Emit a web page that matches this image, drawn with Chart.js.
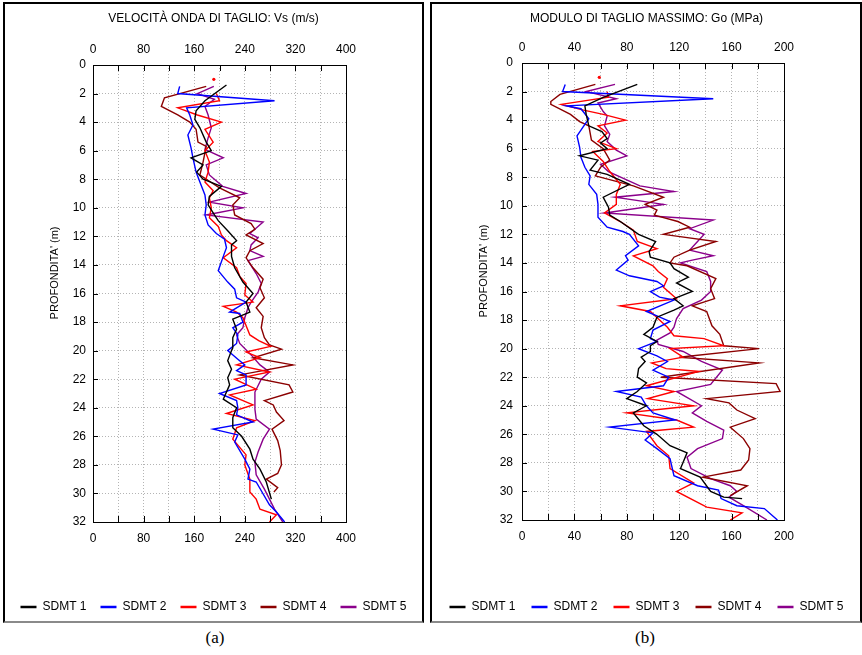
<!DOCTYPE html>
<html>
<head>
<meta charset="utf-8">
<script src="https://cdn.jsdelivr.net/npm/chart.js@4.4.0/dist/chart.umd.min.js"></script>
<style>
  body { margin: 0; background: #fff; width: 862px; height: 655px; position: relative; overflow: hidden; }
  .frame { position: absolute; top: 2px; height: 621px; box-sizing: border-box;
           border: 2px solid #000; border-bottom: 2px solid #8a8a8a; }
  #frameA { left: 3px; width: 421px; }
  #frameB { left: 430px; width: 432px; }
  canvas { position: absolute; top: 4px; }
  #chartA { left: 4px; }
  #chartB { left: 431px; }
  .cap { position: absolute; top: 628px; width: 40px; text-align: center;
         font-family: "Liberation Serif", "Times New Roman", serif; font-size: 17px; color: #000; }
</style>
</head>
<body>
<div class="frame" id="frameA"></div>
<div class="frame" id="frameB"></div>
<canvas id="chartA" width="419" height="619"></canvas>
<canvas id="chartB" width="431" height="619"></canvas>
<div class="cap" style="left:195px">(a)</div>
<div class="cap" style="left:625px">(b)</div>
<script>
const seriesNames = ['SDMT 1', 'SDMT 2', 'SDMT 3', 'SDMT 4', 'SDMT 5'];
const seriesColors = ['#000000', '#0000ff', '#ff0000', '#8b0000', '#8b008b'];

// [depth (m), Vs (m/s)]
const vs1 = [[1.4,211],[2.5,177],[3.2,163],[3.8,161],[4.4,169],[5.4,179],[6.0,187],[6.5,155],[7.0,174],[7.5,164],[8.0,174],[8.5,203],[9.2,184],[9.8,182],[10.5,192],[10.9,198],[11.6,213],[12.3,227],[12.6,219],[13.4,219],[14.2,224],[15.2,237],[16.0,253],[16.6,242],[17.3,248],[17.8,221],[18.5,227],[19.1,221],[19.8,221],[20.0,219],[20.7,213],[21.3,219],[21.9,213],[22.4,216],[23.4,206],[24.0,227],[24.7,221],[25.4,221],[26.0,235],[26.9,248],[27.6,253],[28.3,264],[29.2,274],[30.4,282]];
const vs2 = [[1.5,137],[2.0,134],[2.5,287],[3.0,148],[3.5,153],[4.2,158],[4.9,150],[5.8,155],[6.5,158],[7.5,163],[8.2,169],[9.1,177],[9.8,179],[10.5,177],[11.2,182],[11.8,195],[12.2,208],[12.8,211],[13.4,206],[14.4,198],[15.2,213],[15.7,224],[16.3,227],[16.6,242],[17.3,216],[17.4,232],[18.0,237],[18.4,221],[18.9,229],[19.5,227],[20.0,213],[20.6,229],[21.0,240],[21.4,227],[21.7,242],[22.4,242],[23.0,200],[23.5,227],[24.0,229],[24.5,227],[25.0,253],[25.5,190],[25.9,229],[26.4,224],[27.6,240],[28.3,248],[29.0,245],[29.2,258],[30.8,279],[31.3,290],[32.0,303]];
const vs3Dot = [1.0, 191];
const vs3 = [[2.0,195],[2.5,200],[3.0,134],[3.5,165],[4.0,203],[4.5,177],[5.4,190],[6.0,177],[6.8,184],[7.5,182],[8.2,177],[8.8,190],[9.3,184],[10.0,187],[10.7,184],[11.3,198],[11.9,203],[12.3,211],[12.8,227],[13.5,206],[14.2,227],[14.8,232],[15.3,242],[16.1,240],[16.6,253],[16.9,206],[17.3,227],[17.7,237],[18.9,248],[19.3,262],[19.7,281],[20.1,242],[20.5,264],[21.0,227],[21.5,279],[22.0,224],[22.7,258],[23.1,216],[23.8,253],[24.4,211],[24.9,256],[25.4,227],[26.2,221],[27.3,242],[28.0,240],[29.0,248],[29.9,248],[30.4,258],[31.1,264],[31.5,290],[32.0,279]];
const vs4 = [[1.5,179],[2.3,113],[2.9,108],[3.5,134],[4.0,153],[4.5,163],[5.4,166],[5.7,179],[6.8,174],[7.7,169],[8.6,200],[9.3,232],[9.8,221],[10.5,224],[11.1,250],[11.5,256],[11.9,242],[12.5,269],[13.0,248],[13.5,242],[14.2,253],[15.0,269],[15.6,264],[16.3,271],[17.0,258],[17.6,269],[18.4,266],[19.1,271],[19.6,279],[19.9,298],[20.5,253],[21.0,316],[21.7,232],[22.4,310],[22.9,316],[23.5,271],[23.8,285],[24.3,290],[24.9,302],[25.5,283],[26.3,292],[27.0,296],[28.0,298],[28.6,292],[29.0,274],[29.6,292],[29.9,286]];
const vs5 = [[1.5,191],[2.0,165],[2.4,192],[2.9,177],[3.5,182],[4.4,187],[5.1,182],[5.9,177],[6.5,206],[7.0,179],[7.7,184],[8.5,205],[9.0,242],[9.6,184],[10.0,237],[10.5,179],[11.0,269],[11.8,248],[12.1,261],[12.6,250],[13.0,248],[13.4,269],[13.7,245],[14.6,258],[15.3,266],[15.9,261],[16.6,250],[17.0,245],[17.7,240],[18.4,237],[18.9,227],[19.5,232],[20.3,250],[21.0,264],[21.5,279],[22.0,266],[22.9,256],[24.1,256],[24.8,258],[25.5,279],[26.2,269],[27.1,261],[27.8,256],[28.7,258],[29.7,271],[30.4,279],[31.1,287],[32.0,300]];

// [depth (m), Go (MPa)]
const go1 = [[1.5,88],[2.4,62],[3.0,48],[3.6,49],[4.4,51],[4.8,61],[5.3,65],[5.6,60],[6.0,65],[6.5,44],[6.8,58],[7.5,52],[7.8,65],[8.5,82],[9.4,62],[10.1,66],[10.65,67],[11.1,75],[12.0,89],[12.5,102],[13.2,97],[13.6,98],[14.0,113],[14.4,116],[15.0,127],[15.4,118],[16.0,130],[16.5,116],[17.0,123],[17.3,116],[17.8,103],[18.5,100],[19.0,93],[19.5,103],[19.8,98],[20.2,98],[20.6,91],[20.9,94],[21.4,89],[22.0,88],[22.4,95],[23.0,88],[23.5,80],[24.0,95],[24.5,85],[25.4,93],[26.0,103],[26.8,113],[27.3,126],[28.4,121],[29.0,136],[30.0,144],[30.4,154],[30.5,168]];
const go2 = [[1.5,33],[2.0,31],[2.5,146],[3.0,34],[3.2,45],[3.9,51],[4.3,48],[5.1,42],[5.9,44],[6.6,45],[7.3,48],[7.9,52],[8.5,51],[9.2,57],[9.9,58],[10.8,58],[11.5,65],[11.8,77],[12.0,82],[12.8,89],[13.5,79],[13.8,81],[14.5,72],[14.9,82],[15.3,103],[15.6,108],[16.0,98],[16.4,105],[16.6,116],[17.4,95],[17.7,103],[18.1,113],[18.7,100],[19.3,98],[19.5,103],[20.0,89],[20.5,103],[20.9,111],[21.5,100],[22.0,112],[22.6,108],[23.0,72],[23.4,91],[24.0,95],[24.5,100],[25.0,117],[25.5,67],[25.9,100],[26.4,94],[27.0,103],[27.7,113],[28.9,116],[29.6,134],[29.9,150],[30.5,152],[31.0,164],[31.2,185],[32.0,195]];
const go3Dot = [1.0, 59];
const go3 = [[2.0,65],[2.4,66],[2.9,30],[3.3,47],[3.6,62],[4.0,79],[4.4,58],[4.9,65],[5.5,58],[6.0,72],[6.2,54],[6.9,62],[7.6,67],[8.5,75],[9.2,72],[9.9,72],[10.5,63],[11.1,75],[11.7,85],[12.5,88],[13.0,103],[13.5,85],[14.2,100],[14.6,104],[15.1,111],[15.7,108],[16.5,118],[17.0,75],[17.4,98],[18.0,105],[18.5,111],[19.1,116],[19.3,139],[19.8,154],[20.0,113],[20.6,123],[21.0,99],[21.4,110],[21.6,135],[22.6,95],[23.0,116],[23.5,96],[24.0,131],[24.5,80],[25.0,118],[25.5,131],[25.8,95],[26.8,103],[27.5,112],[28.4,113],[29.4,131],[30.0,118],[31.1,141],[31.5,168],[32.0,159]];
const go4 = [[1.5,56],[2.2,29],[2.7,22],[2.9,22],[3.6,37],[4.1,44],[4.4,51],[5.4,53],[6.0,62],[6.8,67],[7.3,60],[7.9,56],[8.6,85],[9.4,108],[9.9,94],[10.3,103],[10.65,101],[11.1,119],[11.5,128],[12.0,108],[12.5,148],[13.1,128],[13.6,116],[14.0,113],[14.2,126],[15.1,148],[15.8,144],[16.5,147],[17.0,130],[17.4,141],[18.4,145],[19.0,151],[19.8,154],[20.0,181],[20.6,120],[21.0,181],[22.0,106],[22.45,194],[23.0,197],[23.5,141],[23.8,158],[24.3,164],[24.9,178],[25.5,159],[26.3,169],[27.0,174],[27.8,173],[28.5,167],[29.0,138],[29.6,172],[30.3,159]];
const go5 = [[1.5,71],[2.0,49],[2.5,72],[2.8,58],[3.4,62],[3.7,65],[4.4,63],[5.0,67],[5.5,65],[6.1,72],[6.5,80],[7.1,60],[7.6,66],[8.6,90],[9.0,116],[9.4,71],[9.9,108],[10.5,63],[11.0,146],[11.6,128],[12.0,139],[12.5,134],[13.1,128],[13.5,146],[13.8,130],[14.0,121],[14.6,141],[15.3,144],[16.0,144],[16.6,137],[17.2,123],[17.9,118],[18.5,116],[18.9,113],[19.4,103],[19.7,104],[20.2,123],[20.9,137],[21.5,153],[22.5,144],[23.0,118],[24.0,137],[24.5,130],[25.1,141],[25.7,154],[26.3,153],[27.0,134],[27.6,126],[28.4,129],[29.1,144],[29.6,159],[30.0,164],[30.4,158],[31.0,169],[32.0,187]];

const FONT = '"Liberation Sans Narrow", "Liberation Sans", Arial, sans-serif';
Chart.defaults.font.family = FONT;
Chart.defaults.color = '#000';

// outer box of the plot, inward tick marks and the depth label
const frameTicks = {
  id: 'frameTicks',
  afterDatasetsDraw(chart, args, opts) {
    const { ctx, chartArea: a, scales } = chart;
    ctx.save();
    ctx.strokeStyle = '#000';
    ctx.lineWidth = 1;
    ctx.strokeRect(a.left + 0.5, a.top + 0.5, a.width, a.height);
    ctx.beginPath();
    scales.x.ticks.forEach(t => {
      const px = Math.round(scales.x.getPixelForValue(t.value)) + 0.5;
      ctx.moveTo(px, a.top); ctx.lineTo(px, a.top + 6);
      ctx.moveTo(px, a.bottom); ctx.lineTo(px, a.bottom - 6);
    });
    scales.y.ticks.forEach(t => {
      const py = Math.round(scales.y.getPixelForValue(t.value)) + 0.5;
      ctx.moveTo(a.left, py); ctx.lineTo(a.left + 5, py);
    });
    ctx.stroke();
    ctx.translate(a.left - 38, a.top + a.height * 0.455);
    ctx.rotate(-Math.PI / 2);
    ctx.font = '11px ' + FONT;
    ctx.fillStyle = '#000';
    ctx.textAlign = 'center';
    ctx.textBaseline = 'middle';
    ctx.fillText(opts.yTitle, 0, 0);
    ctx.restore();
  }
};

function buildDatasets(series, dot) {
  const sets = series.map((s, i) => ({
    label: seriesNames[i],
    data: s.map(p => ({ x: p[1], y: p[0] })),
    borderColor: seriesColors[i],
    backgroundColor: seriesColors[i],
    borderWidth: 1.4,
    showLine: true,
    pointRadius: 0,
    tension: 0
  }));
  sets.push({
    label: 'dot',
    data: [{ x: dot[1], y: dot[0] }],
    backgroundColor: seriesColors[2],
    borderWidth: 0,
    pointRadius: 1.6
  });
  return sets;
}

function makeChart(id, cfg) {
  const fix = (prop, val) => s => { s[prop] = val; };
  const xTicks = pad => ({
    stepSize: cfg.xGrid, autoSkip: false, padding: pad, maxRotation: 0, minRotation: 0,
    font: { size: 12 }, callback: v => (v % cfg.xLabel === 0 ? v : '')
  });
  return new Chart(document.getElementById(id), {
    type: 'scatter',
    data: { datasets: buildDatasets(cfg.series, cfg.dot) },
    options: {
      responsive: false,
      animation: false,
      layout: { padding: { bottom: 0 } },
      scales: {
        x: {
          type: 'linear', position: 'top', min: 0, max: cfg.xMax,
          ticks: xTicks(8),
          grid: { color: '#b4b4b4', drawTicks: false },
          border: { display: false, dash: [1, 2] },
          afterFit: fix('height', cfg.topH)
        },
        xb: {
          type: 'linear', position: 'bottom', min: 0, max: cfg.xMax,
          ticks: xTicks(9),
          grid: { display: false, drawTicks: false },
          border: { display: false },
          afterFit: fix('height', cfg.botH)
        },
        y: {
          type: 'linear', position: 'left', reverse: true, min: 0, max: 32,
          ticks: { stepSize: 2, autoSkip: false, padding: cfg.yPad, font: { size: 12 } },
          grid: { color: '#b4b4b4', drawTicks: false },
          border: { display: false, dash: [1, 2] },
          afterFit: fix('width', cfg.leftW)
        },
        yr: {
          type: 'linear', position: 'right', min: 0, max: 32,
          ticks: { display: false },
          grid: { display: false, drawTicks: false },
          border: { display: false },
          afterFit: fix('width', cfg.rightW)
        }
      },
      plugins: {
        title: {
          display: true, text: cfg.title,
          font: { size: 12, weight: 'normal' },
          padding: { top: 7, bottom: 0 }
        },
        legend: {
          position: 'bottom',
          labels: {
            usePointStyle: true, pointStyle: 'line', pointStyleWidth: 16,
            font: { size: 12 }, padding: cfg.legendGap, color: '#000',
            filter: item => item.text !== 'dot',
            generateLabels: chart => Chart.defaults.plugins.legend.labels.generateLabels(chart)
              .map(l => Object.assign(l, { lineWidth: 2.5 }))
          }
        },
        tooltip: { enabled: false },
        frameTicks: { yTitle: "PROFONDITA' (m)" }
      }
    },
    plugins: [frameTicks]
  });
}

makeChart('chartA', {
  title: 'VELOCITÀ ONDA DI TAGLIO: Vs (m/s)',
  series: [vs1, vs2, vs3, vs4, vs5], dot: vs3Dot,
  xMax: 400, xGrid: 40, xLabel: 80,
  topH: 39.6, botH: 65, leftW: 89, rightW: 77, yPad: 7, legendGap: 14
});

makeChart('chartB', {
  title: 'MODULO DI TAGLIO MASSIMO: Go (MPa)',
  series: [go1, go2, go3, go4, go5], dot: go3Dot,
  xMax: 200, xGrid: 20, xLabel: 40,
  topH: 37.6, botH: 65, leftW: 91, rightW: 78, yPad: 9, legendGap: 16
});
</script>
</body>
</html>
